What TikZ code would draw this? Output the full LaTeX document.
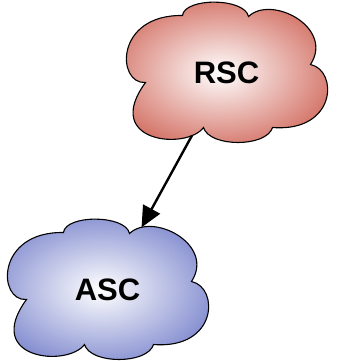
\documentclass[tikz,border=0pt]{standalone}
\usepackage{fontspec}
\setmainfont{Liberation Sans}
\usetikzlibrary{arrows.meta,backgrounds}
\definecolor{rscouter}{RGB}{212,116,104}
\definecolor{ascouter}{RGB}{132,142,208}
% cloud outline around the origin: six puffs meeting in sharp dips
\newcommand\cloudoutline{%
  (-81,10) .. controls (-110,12) and (-112,-58) .. (-44,-57)
  .. controls (-42,-75) and (18,-75) .. (22,-56)
  .. controls (45,-78) and (108,-45) .. (84,-8)
  .. controls (112,-2) and (110,60) .. (46,55)
  .. controls (40,75) and (-17,75) .. (-23,55)
  .. controls (-40,78) and (-125,70) .. cycle}
\tikzset{
  label/.style={rectangle, minimum width=199pt, minimum height=136pt, inner sep=0pt,
    font=\fontsize{31}{31}\selectfont\bfseries},
  puff/.style={draw=black, line width=1.1pt, line join=miter},
  link/.style={line width=2.4pt, shorten <=-6pt, shorten >=-7pt,
    -{Triangle[length=21pt,width=19pt]}}
}
\begin{document}
\begin{tikzpicture}[x=1pt,y=-1pt]
  \useasboundingbox (0,0) rectangle (347,361);
  \node[label] (rsc) at (226.5,72.5) {RSC};
  \node[label] (asc) at (107.5,289.5) {ASC};
  \begin{scope}[on background layer]
    \path[puff, shift={(rsc.center)}, inner color=white, outer color=rscouter] \cloudoutline;
    \path[puff, shift={(asc.center)}, inner color=white, outer color=ascouter] \cloudoutline;
  \end{scope}
  \draw[link] (rsc) -- (asc);
\end{tikzpicture}
\end{document}
